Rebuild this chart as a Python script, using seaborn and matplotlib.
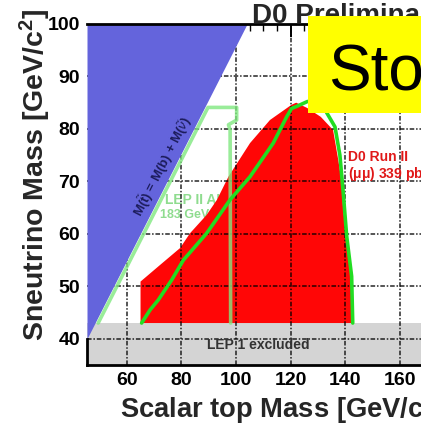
import matplotlib
matplotlib.use("Agg")
import matplotlib.pyplot as plt
import seaborn as sns
from matplotlib.patches import Rectangle
from matplotlib.ticker import MultipleLocator

# ---- data ----
# kinematic limit M(stop) = M(b) + M(sneutrino)
kin_x = [45.4, 104.0]
kin_y = [40.0, 100.0]

# LEP 1 excluded band
lep1_y = [35.0, 43.0]

# D0 Run II observed excluded region
d0_obs_x = [65.0, 65.0, 72.0, 79.5, 83.1, 89.2, 93.0, 97.2, 105.1, 112.4, 120.3,
            122.0, 126.0, 131.0, 135.5, 137.4, 138.7, 139.2, 140.5, 142.3, 142.8]
d0_obs_y = [43.0, 50.9, 54.0, 57.3, 60.1, 63.6, 66.5, 70.9, 77.3, 81.7, 84.6,
            85.0, 84.0, 82.3, 79.8, 74.1, 69.7, 64.6, 59.5, 52.6, 43.0]

# D0 expected contour (bright green)
d0_exp_x = [65.4, 68.5, 71.5, 76.4, 80.7, 89.2, 97.8, 105.1, 113.6, 118.5,
            120.3, 122.2, 126.0, 129.0, 132.6, 136.2, 138.0, 139.2, 140.5, 142.3, 142.7]
d0_exp_y = [43.0, 45.5, 47.4, 51.2, 55.0, 60.1, 66.5, 70.9, 77.3, 82.3,
            83.9, 84.3, 85.2, 85.5, 83.6, 80.4, 75.0, 68.0, 59.5, 51.9, 43.0]

# LEP II ALEPH contour (pale green)
lep2_x = [49.5, 89.7, 100.2, 100.2, 97.2, 97.8, 98.0]
lep2_y = [43.0, 84.1, 84.1, 81.7, 80.8, 79.8, 43.0]

x_ticks = [60, 80, 100, 120, 140, 160]
y_ticks = [40, 50, 60, 70, 80, 90, 100]
x_range = [45.4, 167.7]
y_range = [35.0, 100.0]

# ---- style ----
sns.set_theme(style="white")
plt.rcParams['font.family'] = ['Liberation Sans', 'DejaVu Sans']
plt.rcParams['mathtext.fontset'] = 'custom'
plt.rcParams['mathtext.bf'] = 'Liberation Sans:bold'
plt.rcParams['mathtext.rm'] = 'Liberation Sans'
plt.rcParams['mathtext.it'] = 'Liberation Sans:italic'

W, H = 421, 425
fig = plt.figure(figsize=(W / 100, H / 100), dpi=100)
fig.patch.set_facecolor('white')
ax = fig.add_axes([87 / W, 60 / H, (W - 87) / W, (365 - 24) / H])
ax.set_facecolor('white')

# LEP 1 band
ax.axhspan(lep1_y[0], lep1_y[1], color='#d4d4d4', zorder=0.5, lw=0)

# LEP II label (hidden partly under the red region)
ax.text(73.9, 66.5, "LEP II ALEPH", color='#8fdc8f', fontsize=10,
        fontweight='bold', ha='left', va='center', zorder=0.8)
ax.text(72.0, 63.5, "183 GeV + 189 GeV", color='#8fdc8f', fontsize=9,
        fontweight='bold', ha='left', va='center', zorder=0.8)

# D0 observed excluded region
ax.fill(d0_obs_x, d0_obs_y, color='#ff0606', lw=0, zorder=1)

# kinematically forbidden region
ax.fill_betweenx(kin_y, x_range[0], kin_x, color='#6464dc', lw=0, zorder=2.6)

# contours
sns.lineplot(x=lep2_x, y=lep2_y, sort=False, estimator=None, ax=ax,
             color='#80e880', alpha=0.8, lw=2.6, zorder=2.7)
sns.lineplot(x=d0_exp_x, y=d0_exp_y, sort=False, estimator=None, ax=ax,
             color='#22dd22', lw=2.6, zorder=2.8)

ax.set_xlim(*x_range)
ax.set_ylim(*y_range)

# grid / ticks
ax.set_axisbelow(False)
ax.xaxis.set_minor_locator(MultipleLocator(5))
ax.yaxis.set_minor_locator(MultipleLocator(2))
ax.set_xticks(x_ticks)
ax.set_yticks(y_ticks)
ax.grid(True, which='major', color='black', lw=1.1, ls=(0, (3, 1.2, 1, 1.2)), alpha=0.85)
ax.tick_params(which='both', direction='in', top=True, right=False, colors='black')
ax.tick_params(which='major', length=9, width=1.4, labelsize=14, pad=5)
ax.tick_params(which='minor', length=5, width=1.0)
for lab in ax.get_xticklabels() + ax.get_yticklabels():
    lab.set_fontweight('bold')

for side in ['top', 'bottom', 'left']:
    ax.spines[side].set_color('black')
    ax.spines[side].set_linewidth(2)
    ax.spines[side].set_zorder(3)
ax.spines['right'].set_visible(False)
ax.spines['left'].set_bounds(35, 40)

# in-plot texts
ax.text(72.9, 72.8, r"M($\tilde{\mathbf{t}}$) = M(b) + M($\tilde{\nu}$)", color='#1c1c5c',
        fontsize=9.5, fontweight='bold', rotation=63, rotation_mode='anchor',
        ha='center', va='center', zorder=4)
ax.text(141.0, 74.6, "D0 Run II", color='#e01818', fontsize=10, fontweight='bold',
        ha='left', va='center', zorder=4)
ax.text(141.0, 71.3, "(μμ) 339 pb$^{-1}$", color='#e01818', fontsize=10,
        fontweight='bold', ha='left', va='center', zorder=4)
ax.text(89.5, 38.9, "LEP 1 excluded", color='#333333', fontsize=10,
        fontweight='bold', ha='left', va='center', zorder=4)

# axis titles (ROOT-like placement)
fig.text(35 / W, 1 - 9 / H, r"Sneutrino Mass [GeV/c$^{\mathbf{2}}$]", rotation=90,
         fontsize=20.5, fontweight='bold', ha='center', va='top')
fig.text(120 / W, 1 - 418 / H, r"Scalar top Mass [GeV/c$^{\mathbf{2}}$]",
         fontsize=19.7, fontweight='bold', ha='left', va='baseline')

# title
fig.text(252 / W, 1 - 23 / H, "D0 Preliminary", fontsize=20, fontweight='bold',
         ha='left', va='baseline')

# yellow "Stop" label box
fig.patches.append(Rectangle((308 / W, 1 - 113 / H), 0.5, 97 / H,
                             transform=fig.transFigure, facecolor='#ffff00',
                             edgecolor='none', zorder=5))
fig.text(328 / W, 1 - 90 / H, "Stop", fontsize=46, color='black',
         ha='left', va='baseline', zorder=6)

fig.savefig("out.png", dpi=100)
